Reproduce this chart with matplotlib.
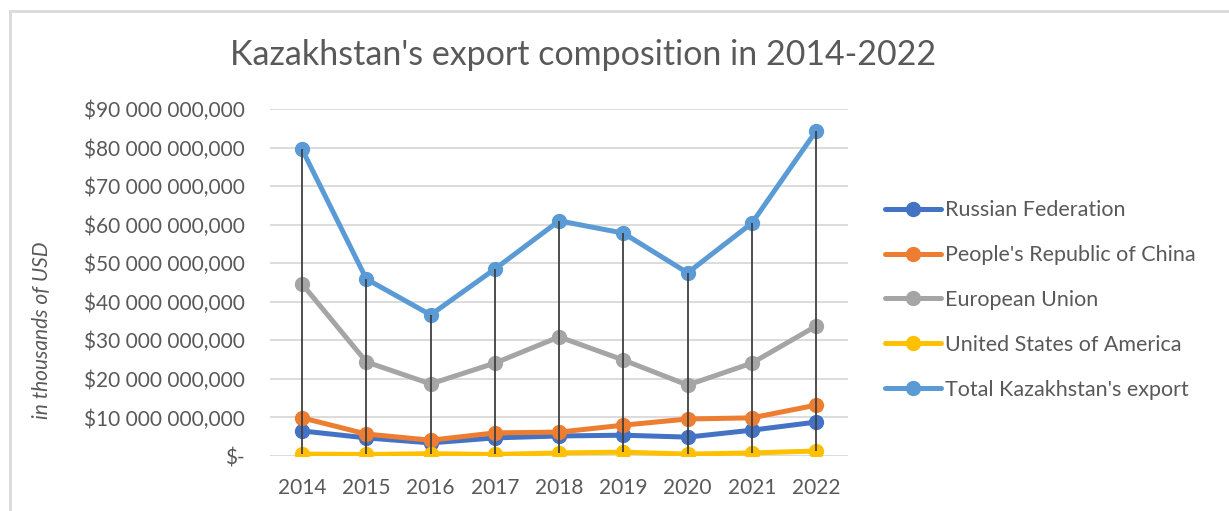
import matplotlib
matplotlib.use("Agg")
import matplotlib.pyplot as plt
from matplotlib.patches import Rectangle
from matplotlib.ticker import FuncFormatter

years = ["2014", "2015", "2016", "2017", "2018", "2019", "2020", "2021", "2022"]

# billions of (thousand) USD
russia = [6.5, 4.7, 3.4, 4.7, 5.2, 5.4, 4.9, 6.7, 8.8]
china = [9.9, 5.7, 4.1, 6.0, 6.2, 8.0, 9.6, 9.9, 13.2]
eu = [44.6, 24.4, 18.7, 24.1, 30.9, 24.9, 18.4, 24.1, 33.7]
usa = [0.5, 0.4, 0.6, 0.4, 0.8, 1.0, 0.5, 0.8, 1.3]
total = [79.5, 45.9, 36.6, 48.5, 61.0, 57.8, 47.5, 60.4, 84.3]

series = [
    ("Russian Federation", russia, "#4472C4"),
    ("People's Republic of China", china, "#ED7D31"),
    ("European Union", eu, "#A5A5A5"),
    ("United States of America", usa, "#FFC000"),
    ("Total Kazakhstan's export", total, "#5B9BD5"),
]

plt.rcParams['font.family'] = ['Lato', 'DejaVu Sans']
txt = "#595959"

fig = plt.figure(figsize=(12.29, 5.11), dpi=100)
ax = fig.add_axes([0.2197, 0.1076, 0.4705, 0.6791])

# chart border (only top and left edges visible in the crop)
fig.patches.append(Rectangle((10 / 1229, -0.1), 1.2, 1 - 11 / 511 + 0.1,
                             transform=fig.transFigure, fill=False,
                             edgecolor="#D9D9D9", lw=2))

x = list(range(len(years)))
for name, vals, col in series:
    ax.plot(x, [v * 1e9 for v in vals], color=col, lw=3.6, marker="o",
            markersize=10, label=name, solid_capstyle="round", zorder=3)

# high-low lines
for i in x:
    vals = [s[1][i] for s in series]
    ax.vlines(i, min(vals) * 1e9, max(vals) * 1e9, color="#404040", lw=1.3, zorder=4)

ax.set_xlim(-0.5, len(years) - 0.5)
ax.set_ylim(0, 90e9)
ax.set_yticks([i * 10e9 for i in range(10)])


def fmt(v, pos):
    if v == 0:
        return "$-"
    n = int(round(v / 1e9))
    return "$%d 000 000,000" % n


ax.yaxis.set_major_formatter(FuncFormatter(fmt))
ax.set_xticks(x)
ax.set_xticklabels(years)
ax.tick_params(axis="both", length=0, labelsize=15, labelcolor=txt)
ax.tick_params(axis="y", pad=18)
ax.tick_params(axis="x", pad=16)
ax.grid(axis="y", color="#D9D9D9", lw=1.3)
ax.set_axisbelow(True)
for sp in ax.spines.values():
    sp.set_visible(False)

fig.text(583 / 1229, 1 - 55 / 511, "Kazakhstan's export composition in 2014-2022",
         ha="center", va="center", fontsize=24.5, color=txt)
fig.text(42 / 1229, 1 - 330 / 511, "in thousands of USD", rotation=90,
         ha="center", va="center", fontsize=15, style="italic", color=txt)

ax.legend(loc="center left", bbox_to_anchor=(885 / 1229, 1 - 300 / 511),
          bbox_transform=fig.transFigure, frameon=False, borderpad=0,
          borderaxespad=0, fontsize=15.5, labelcolor=txt, handlelength=2.6,
          handletextpad=0.2, labelspacing=1.15)

fig.savefig("out.png", dpi=100)
